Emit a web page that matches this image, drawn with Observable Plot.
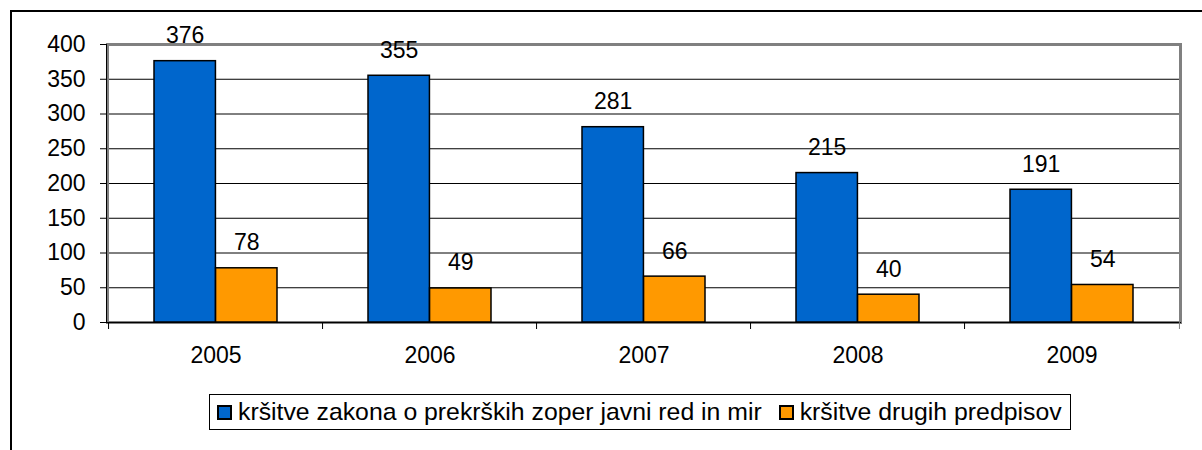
<!DOCTYPE html>
<html>
<head>
<meta charset="utf-8">
<script src="https://cdn.jsdelivr.net/npm/d3@7"></script>
<script src="https://cdn.jsdelivr.net/npm/@observablehq/plot@0.6"></script>
<style>
  body { margin: 0; background: #fff; font-family: "Liberation Sans", Arial, sans-serif; }
  #wrap { position: relative; width: 1202px; height: 450px; overflow: hidden; background: #fff; }
  #frame { position: absolute; left: 10px; top: 10px; width: 1200px; height: 470px;
           border-left: 2px solid #000; border-top: 2px solid #000; pointer-events: none; }
  #chart svg { display: block; }
  #legend { margin-left: 209px; margin-top: 14px; width: 862px; height: 36px; box-sizing: border-box;
            border: 1px solid #000; display: flex; align-items: center; padding-left: 7px;
            font-size: 24.8px; color: #000; white-space: nowrap; }
  .sw { width: 15px; height: 15px; box-sizing: border-box; border: 2px solid #000; display: inline-block; flex: none; }
  .lt { margin-left: 6px; }
  .item1 { display: flex; align-items: center; }
  .item2 { margin-left: 17px; display: flex; align-items: center; }
</style>
</head>
<body>
<div id="wrap">
  <div id="chart"></div>
  <div id="legend"></div>
  <div id="frame"></div>
</div>
<script>
const years = ["2005", "2006", "2007", "2008", "2009"];
const zakon = [376, 355, 281, 215, 191];
const drugi = [78, 49, 66, 40, 54];
const seriesNames = ["kršitve zakona o prekrških zoper javni red in mir", "kršitve drugih predpisov"];
const seriesColors = ["#0066CC", "#FF9900"];
const yTicks = [0, 50, 100, 150, 200, 250, 300, 350, 400];

const rowsA = years.map((year, i) => ({year, series: seriesNames[0], value: zakon[i]}));
const rowsB = years.map((year, i) => ({year, series: seriesNames[1], value: drugi[i]}));

const W = 1202, H = 380, ML = 107, MR = 22, MT = 44, MB = 58;
const PI = 0.427, PO = 0.21;
const step = (W - ML - MR) / (years.length - PI + 2 * PO);
const bw = step * (1 - PI);
const half = bw / 2;
const FS = 23;

const font = "Liberation Sans, Arial, sans-serif";

const plot = Plot.plot({
  width: W,
  height: H,
  marginLeft: ML,
  marginRight: MR,
  marginTop: MT,
  marginBottom: MB,
  style: {fontFamily: font, background: "#fff", color: "#000", overflow: "visible"},
  x: {domain: years, paddingInner: PI, paddingOuter: PO, axis: null, label: null},
  y: {domain: [0, 400], axis: null, label: null},
  color: {domain: seriesNames, range: seriesColors},
  marks: [
    Plot.ruleY(yTicks.filter(v => v > 0 && v < 400), {stroke: "#000", strokeWidth: 1}),
    Plot.frame({stroke: "#808080", strokeWidth: 3}),
    Plot.barY(rowsA, {x: "year", y: "value", fill: "series", stroke: "#000", strokeWidth: 1.5, insetRight: half}),
    Plot.barY(rowsB, {x: "year", y: "value", fill: "series", stroke: "#000", strokeWidth: 1.5, insetLeft: half}),
    Plot.frame({anchor: "left", stroke: "#000", strokeWidth: 1, dx: -1}),
    Plot.frame({anchor: "bottom", stroke: "#000", strokeWidth: 1}),
    Plot.axisY({ticks: yTicks, tickSize: 7, tickPadding: 15, fontSize: FS, stroke: "#000", fill: "#000", label: null}),
    Plot.axisX({tickSize: 7, tickFormat: () => "", dx: -step / 2, stroke: "#000", label: null}),
    Plot.axisX({ticks: [years[years.length - 1]], tickSize: 7, tickFormat: () => "", dx: step / 2, stroke: "#808080", label: null}),
    Plot.axisX({tickSize: 0, tickPadding: 24, fontSize: FS, fill: "#000", label: null}),
    Plot.text(rowsA, {x: "year", y: "value", text: d => String(d.value), dx: -bw / 4, dy: -18, lineAnchor: "bottom", fontSize: FS, fill: "#000"}),
    Plot.text(rowsB, {x: "year", y: "value", text: d => String(d.value), dx: bw / 4, dy: -18, lineAnchor: "bottom", fontSize: FS, fill: "#000"})
  ]
});
document.getElementById("chart").appendChild(plot);

const legend = document.getElementById("legend");
seriesNames.forEach((name, i) => {
  const item = document.createElement("div");
  item.className = i === 0 ? "item1" : "item2";
  const sw = document.createElement("span");
  sw.className = "sw";
  sw.style.background = seriesColors[i];
  const t = document.createElement("span");
  t.className = "lt";
  t.textContent = name;
  item.appendChild(sw);
  item.appendChild(t);
  legend.appendChild(item);
});
</script>
</body>
</html>
